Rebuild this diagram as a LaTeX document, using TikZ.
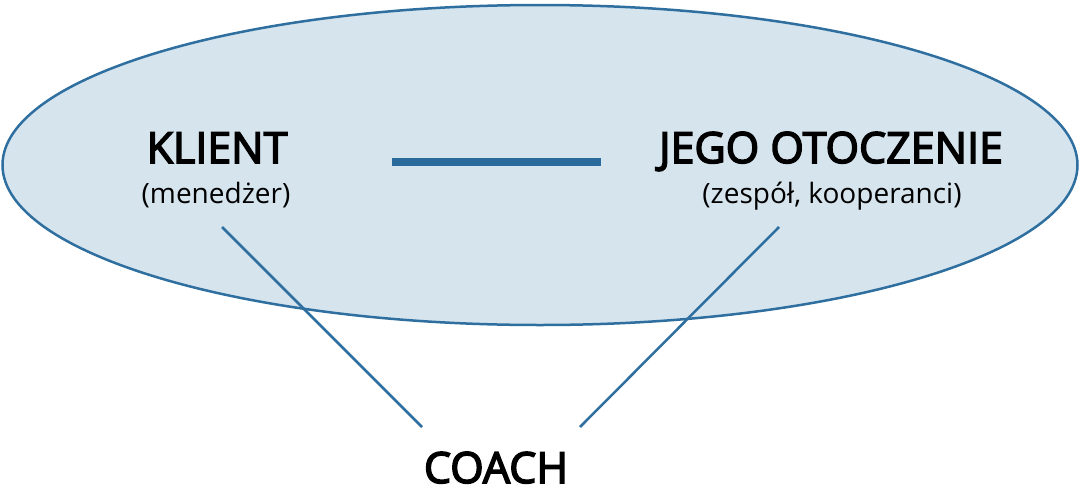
\documentclass[tikz,border=0pt]{standalone}
\usepackage{fontspec}
\setmainfont{Open Sans}
\newfontfamily\semib[FakeBold=3.5]{Open Sans}
\usetikzlibrary{shapes.geometric}
\definecolor{ellfill}{HTML}{D6E4EE}
\definecolor{ellline}{HTML}{2E6FA0}
\definecolor{barcol}{HTML}{2B6A9C}
\begin{document}
\begin{tikzpicture}[x=1pt,y=-1pt,
  title/.style={anchor=base,inner sep=0pt,font=\fontsize{43}{46}\selectfont\semib},
  sub/.style={anchor=base,inner sep=0pt,font=\fontsize{28}{30}\selectfont},
  conn/.style={draw=ellline,line width=2.5pt}]
\useasboundingbox (0,0) rectangle (1080,490);
\node[draw=ellline,line width=2.5pt,fill=ellfill,ellipse,minimum width=1075pt,minimum height=320pt,inner sep=0pt] (ell) at (540,165) {};
\node[title] (klient) at (217,163) {KLIENT};
\node[sub] (men) at (216,203) {(menedżer)};
\node[title] (otocz) at (831,163) {JEGO OTOCZENIE};
\node[sub] (zesp) at (832,203) {(zespół, kooperanci)};
\node[title] (coach) at (496,483) {COACH};
\coordinate (barL) at (392,162);
\coordinate (barR) at (601,162);
\draw[barcol,line width=8pt] (barL) -- (barR);
\coordinate (k1) at (222,227);
\coordinate (c1) at (422,427);
\coordinate (o1) at (779,227);
\coordinate (c2) at (580,427);
\draw[conn] (k1) -- (c1);
\draw[conn] (o1) -- (c2);
\end{tikzpicture}
\end{document}
